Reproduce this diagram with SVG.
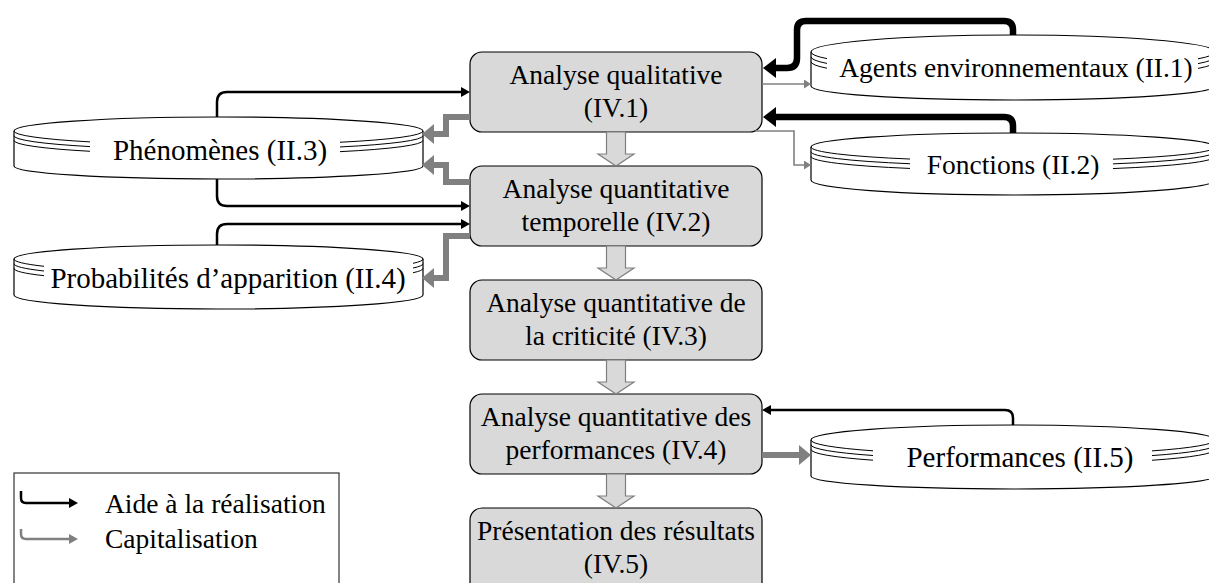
<svg xmlns="http://www.w3.org/2000/svg" width="1209" height="583" viewBox="0 0 1209 583">
<style>
text{font-family:"Liberation Serif","Times New Roman",serif;fill:#000}
.t{font-size:27.5px;text-anchor:middle}
.tb{font-size:29px}
.lg{font-size:27.5px}
.box{fill:#d9d9d9;stroke:#000;stroke-width:1.2}
.cyl{fill:#fff;stroke:#000;stroke-width:1.2}
.ln{fill:none;stroke:#000;stroke-width:1}
.blk{fill:none;stroke:#000;stroke-width:2.5}
.blkT{fill:none;stroke:#000;stroke-width:6.5}
.gry{fill:none;stroke:#808080;stroke-width:1.6}
.gryL{fill:none;stroke:#808080;stroke-width:2.5}
.gryT{fill:none;stroke:#808080;stroke-width:6;stroke-linejoin:miter}
.flow{fill:#d9d9d9;stroke:#7f7f7f;stroke-width:1.2}
</style>
<defs>
<marker id="mB" markerUnits="userSpaceOnUse" markerWidth="9" markerHeight="10" viewBox="0 0 9 10" refX="0" refY="5" orient="auto"><path d="M0,0 L9,5 L0,10 Z" fill="#000"/></marker>
<marker id="mBT" markerUnits="userSpaceOnUse" markerWidth="13" markerHeight="20" viewBox="0 0 13 20" refX="0" refY="10" orient="auto"><path d="M0,0 L13,10 L0,20 Z" fill="#000"/></marker>
<marker id="mG" markerUnits="userSpaceOnUse" markerWidth="7" markerHeight="9" viewBox="0 0 7 9" refX="0" refY="4.5" orient="auto"><path d="M0,0 L7,4.5 L0,9 Z" fill="#808080"/></marker>
<marker id="mGL" markerUnits="userSpaceOnUse" markerWidth="9" markerHeight="10" viewBox="0 0 9 10" refX="0" refY="5" orient="auto"><path d="M0,0 L9,5 L0,10 Z" fill="#808080"/></marker>
<marker id="mGT" markerUnits="userSpaceOnUse" markerWidth="12" markerHeight="20" viewBox="0 0 12 20" refX="0" refY="10" orient="auto"><path d="M0,0 L12,10 L0,20 Z" fill="#808080"/></marker>
<path id="flowArrow" d="M606.5,0 H625.5 V22 H634 L616,34 L598,22 H606.5 Z"/>
</defs>

<g id="process-1">
<rect class="box" x="470" y="52" width="292" height="80" rx="12"/>
<text class="t" x="616" y="84">Analyse qualitative</text>
<text class="t" x="616" y="117">(IV.1)</text>
</g>
<g id="process-2">
<rect class="box" x="470" y="166" width="292" height="80" rx="12"/>
<text class="t" x="616" y="198">Analyse quantitative</text>
<text class="t" x="616" y="231">temporelle (IV.2)</text>
</g>
<g id="process-3">
<rect class="box" x="470" y="280" width="292" height="80" rx="12"/>
<text class="t" x="616" y="312">Analyse quantitative de</text>
<text class="t" x="616" y="345">la criticité (IV.3)</text>
</g>
<g id="process-4">
<rect class="box" x="470" y="394" width="292" height="80" rx="12"/>
<text class="t" x="616" y="426">Analyse quantitative des</text>
<text class="t" x="616" y="459">performances (IV.4)</text>
</g>
<g id="process-5">
<rect class="box" x="470" y="508" width="292" height="90" rx="12"/>
<text class="t" x="616" y="540">Présentation des résultats</text>
<text class="t" x="616" y="573">(IV.5)</text>
</g>

<g id="db-phenomenes">
<path class="cyl" d="M14,131 A204.5,14 0 0 1 423,131 V166 A204.5,13 0 0 1 14,166 Z"/>
<path class="ln" d="M14,131 A204.5,14 0 0 0 90,141.89 M14,135.7 A204.5,14 0 0 0 90,146.59 M14,140.4 A204.5,14 0 0 0 90,151.29 M340,142.26 A204.5,14 0 0 0 423,131 M340,146.96 A204.5,14 0 0 0 423,135.7 M340,151.66 A204.5,14 0 0 0 423,140.4"/>
<text class="t tb" x="220" y="160">Phénomènes (II.3)</text>
</g>
<g id="db-probabilites">
<path class="cyl" d="M14,259 A204.5,14 0 0 1 423,259 V295 A204.5,14 0 0 1 14,295 Z"/>
<path class="ln" d="M14,259 A204.5,14 0 0 0 44,266.3 M14,263.7 A204.5,14 0 0 0 44,271 M14,268.4 A204.5,14 0 0 0 44,275.7 M413,263.32 A204.5,14 0 0 0 423,259 M413,268.02 A204.5,14 0 0 0 423,263.7 M413,272.72 A204.5,14 0 0 0 423,268.4"/>
<text class="t tb" x="228" y="288">Probabilités d’apparition (II.4)</text>
</g>
<g id="db-agents">
<path class="cyl" d="M811,52 A202,17 0 0 1 1215,52 V86 A202,14 0 0 1 811,86 Z"/>
<path class="ln" d="M811,52 A202,17 0 0 0 827,58.63 M811,56.8 A202,17 0 0 0 827,63.43 M811,61.6 A202,17 0 0 0 827,68.23 M1198,58.83 A202,17 0 0 0 1215,52 M1198,63.63 A202,17 0 0 0 1215,56.8 M1198,68.43 A202,17 0 0 0 1215,61.6"/>
<text class="t" x="1016" y="77">Agents environnementaux (II.1)</text>
</g>
<g id="db-fonctions">
<path class="cyl" d="M811,147 A202,14 0 0 1 1215,147 V180 A202,15 0 0 1 811,180 Z"/>
<path class="ln" d="M811,147 A202,14 0 0 0 910,159.04 M811,151.7 A202,14 0 0 0 910,163.74 M811,156.4 A202,14 0 0 0 910,168.44 M1113,159.16 A202,14 0 0 0 1215,147 M1113,163.86 A202,14 0 0 0 1215,151.7 M1113,168.56 A202,14 0 0 0 1215,156.4"/>
<text class="t" x="1013" y="174">Fonctions (II.2)</text>
</g>
<g id="db-performances">
<path class="cyl" d="M811,440 A202,15 0 0 1 1215,440 V476 A202,13 0 0 1 811,476 Z"/>
<path class="ln" d="M811,440 A202,15 0 0 0 873,450.81 M811,444.7 A202,15 0 0 0 873,455.51 M811,449.4 A202,15 0 0 0 873,460.21 M1152,450.88 A202,15 0 0 0 1215,440 M1152,455.58 A202,15 0 0 0 1215,444.7 M1152,460.28 A202,15 0 0 0 1215,449.4"/>
<text class="t tb" x="1020" y="467">Performances (II.5)</text>
</g>

<g id="connectors">
<use href="#flowArrow" class="flow" transform="translate(0,132)"/>
<use href="#flowArrow" class="flow" transform="translate(0,246)"/>
<use href="#flowArrow" class="flow" transform="translate(0,360)"/>
<use href="#flowArrow" class="flow" transform="translate(0,474)"/>

<path class="blkT" d="M1013,35 V30 Q1013,21 1004,21 H806 Q797,21 797,30 V58 Q797,68 787,68 H776" marker-end="url(#mBT)"/>
<path class="blkT" d="M1013,133 V126 Q1013,117 1004,117 H776" marker-end="url(#mBT)"/>
<path class="gry" d="M762,84 H804" marker-end="url(#mG)"/>
<path class="gry" d="M755,131 H794 V165 H804" marker-end="url(#mG)"/>

<path class="blk" d="M217,117 V102 Q217,92 227,92 H461" marker-end="url(#mB)"/>
<path class="blk" d="M217,179 V196 Q217,206 227,206 H461" marker-end="url(#mB)"/>
<path class="blk" d="M217,245 V234 Q217,224 227,224 H461" marker-end="url(#mB)"/>

<path class="gryT" d="M470,117 H446 V134 H434" marker-end="url(#mGT)"/>
<path class="gryT" d="M470,182 H446 V165 H434" marker-end="url(#mGT)"/>
<path class="gryT" d="M470,236 H446 V278 H434" marker-end="url(#mGT)"/>

<path class="blk" d="M1013,425 V418 Q1013,410 1005,410 H771" marker-end="url(#mB)"/>
<path class="gryT" d="M762,455 H799" marker-end="url(#mGT)"/>
</g>

<g id="legend">
<rect x="14" y="473" width="325" height="140" fill="none" stroke="#333" stroke-width="1.2"/>
<path class="blk" d="M21,491 V498 Q21,503 26,503 H69" marker-end="url(#mB)"/>
<path class="gryL" d="M21,529 V534 Q21,539 26,539 H69" marker-end="url(#mGL)"/>
<text class="lg" x="105" y="513">Aide à la réalisation</text>
<text class="lg" x="105" y="548">Capitalisation</text>
</g>
</svg>
